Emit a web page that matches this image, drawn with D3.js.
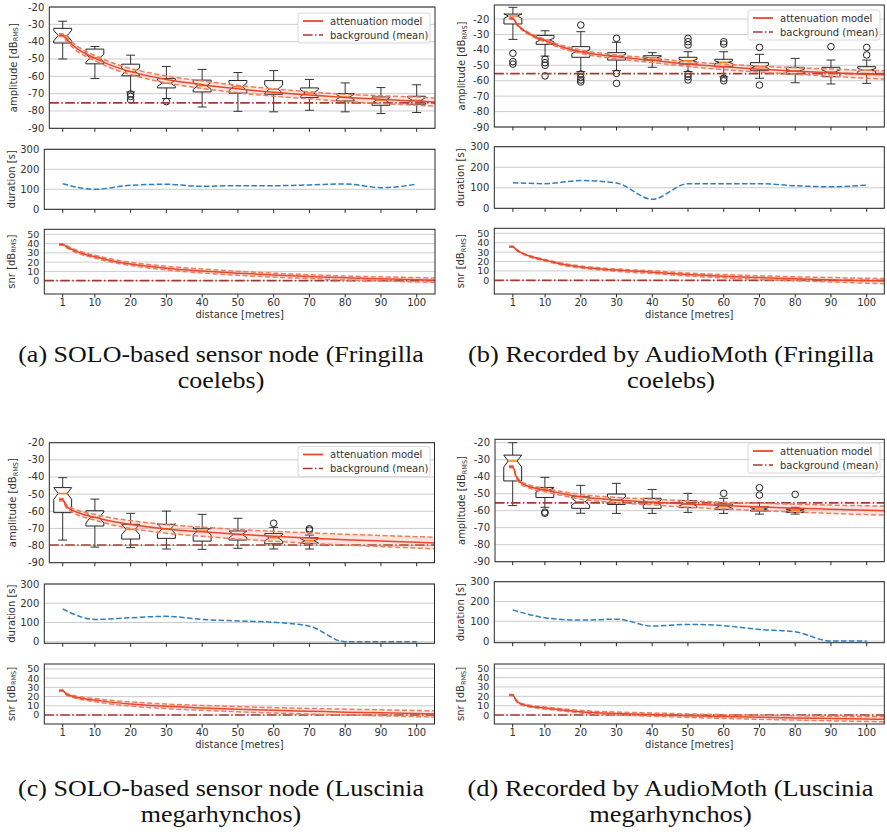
<!DOCTYPE html>
<html>
<head>
<meta charset="utf-8">
<script src="https://cdn.jsdelivr.net/npm/d3@7"></script>
<style>
  body { margin: 0; background: #fff; }
  svg { display: block; }
</style>
</head>
<body>
<div id="wrapper"></div>
<script>
// ---- data ----
const distances = [1, 10, 20, 30, 40, 50, 60, 70, 80, 90, 100]
const distanceTicks = [1, 10, 20, 30, 40, 50, 60, 70, 80, 90, 100]
const amplitudeTicks = [-90, -80, -70, -60, -50, -40, -30, -20]
const durationTicks = [0, 100, 200, 300]
const snrTicks = [0, 10, 20, 30, 40, 50]
const modelDistances = [0, 1, 2, 3, 5, 7, 10, 15, 20, 30, 40, 50, 60, 70, 80, 90, 100, 105]

// (a) SOLO, Fringilla coelebs
const lowA = [-50, -61.3, -69, -72.8, -77.7, -80.2, -80.5, -79.6, -80.5, -81.5, -80.9]
const q1A = [-40.8, -52.8, -59.7, -66.7, -69, -69.7, -70.4, -72.2, -74.2, -76.7, -76.1]
const medianA = [-36.5, -49.5, -57.2, -64, -65.5, -66, -67.4, -69.6, -71.9, -73.8, -73.8]
const q3A = [-32.3, -44.3, -53, -61.3, -62.2, -62.4, -62.5, -66.7, -69.9, -71.9, -71.5]
const highA = [-28.2, -42.8, -47.8, -54.3, -56, -57.8, -56.7, -61.8, -63.8, -66.5, -64.9]
const notchA = [3, 2.2, 2, 1.8, 2, 2.2, 2.3, 2, 1.5, 1.5, 1.6]
const outliersA = [[], [], [-70.2, -71.6, -73.6], [-74.6], [], [], [], [], [], [], []]
const backgroundA = -75.3
const modelA = [-36.3, -36.3, -38.5, -40.5, -44, -46.5, -49.5, -54, -57.3, -61.8, -64.8, -67.2, -69.2, -70.8, -72.2, -73.3, -74.3, -74.8]
const modelUpperA = [-35.5, -35.5, -37.3, -39.2, -42.5, -45, -48, -52.3, -55.5, -59.8, -62.7, -65.2, -67.2, -68.9, -70.3, -71.2, -72, -72.5]
const modelLowerA = [-37, -37, -39.7, -41.8, -45.5, -48, -51, -55.7, -59, -63.8, -67, -69.5, -71.5, -73, -74.5, -75.7, -76.7, -77.2]
const durationA = [128, 100, 120, 125, 115, 118, 118, 122, 127, 108, 125]

// (b) AudioMoth, Fringilla coelebs
const lowB = [-33.2, -44, -54.1, -53.5, -51.3, -54, -57.4, -58.4, -61.3, -62.1, -61.7]
const q1B = [-23.2, -36.4, -44.8, -46.6, -46.6, -49.2, -50.9, -53.5, -55.6, -57.4, -55.6]
const medianB = [-18.1, -33.6, -41.2, -44, -45.1, -47, -48, -50.9, -53.5, -54.1, -53]
const q3B = [-16.8, -30.6, -37.9, -41.8, -43.8, -44.8, -46.1, -48.3, -51.3, -51.3, -50.9]
const highB = [-12.4, -27.6, -28.2, -35.1, -41.8, -41.2, -41.2, -42.9, -45.5, -46.6, -46.6]
const notchB = [1.5, 1.2, 1.2, 1, 0.8, 0.8, 0.9, 1, 0.8, 1, 1]
const outliersB = [
  [-42.2, -47.6, -49.2],
  [-46.1, -48.3, -50, -56.9],
  [-23.9, -55.6, -57.8, -59.5, -60.8],
  [-32.5, -55.2, -61.7],
  [],
  [-32.5, -34.7, -36.8, -55.6, -57.4, -59.5],
  [-34.7, -36.2, -58.4, -60],
  [-38.4, -62.8],
  [],
  [-37.9],
  [-38.4, -43.3]
]
const backgroundB = -55.4
const modelB = [-19.6, -19.6, -23, -25.5, -28.8, -31.2, -34, -38.3, -41.2, -44.5, -46.7, -49.2, -51, -52.5, -53.8, -54.9, -55.8, -56.2]
const modelUpperB = [-19, -19, -22.5, -25, -28.2, -30.5, -33.2, -37.3, -40.1, -43.3, -45.3, -47.7, -49.2, -50.5, -51.6, -52.4, -53.2, -53.5]
const modelLowerB = [-20.2, -20.2, -23.6, -26.1, -29.5, -32, -34.9, -39.3, -42.3, -45.8, -48.2, -50.8, -52.8, -54.4, -55.8, -57.1, -58.4, -58.9]
const durationB = [125, 120, 135, 123, 44, 120, 120, 120, 110, 105, 113]

// (c) SOLO, Luscinia megarhynchos
const lowC = [-76.8, -80.9, -81.2, -82, -82.2, -81.6, -82, -82]
const q1C = [-60.8, -68.6, -76.2, -75.8, -77.4, -76.8, -79, -78.7]
const medianC = [-49.6, -63.6, -70.6, -70.2, -71.5, -73.5, -75.5, -77.2]
const q3C = [-46.2, -59.7, -67.6, -67.6, -70.2, -71.5, -73, -75.4]
const highC = [-40.4, -52.9, -61.2, -59.9, -61.8, -64.1, -69.4, -73.9]
const notchC = [3.4, 3.2, 3, 3, 2.2, 2, 1.8, 1.2]
const outliersC = [[], [], [], [], [], [], [-67], [-70.2, -71]]
const backgroundC = -79.7
const modelC = [-53.2, -53.2, -57, -58.6, -60.6, -62, -63.5, -66, -67.7, -70.3, -72, -73.4, -74.6, -75.6, -76.6, -77.4, -78.1, -78.5]
const modelUpperC = [-52.5, -52.5, -56, -57.5, -59.3, -60.6, -61.8, -64, -65.5, -67.8, -69.3, -70.6, -71.7, -72.6, -73.4, -74.1, -74.8, -75.2]
const modelLowerC = [-54, -54, -58, -59.7, -62, -63.5, -65.2, -68, -70, -72.8, -74.6, -76.2, -77.5, -78.7, -79.7, -80.6, -81.5, -81.9]
const durationC = [170, 116, 125, 132, 116, 108, 101, 81, 0, 0, 0]

// (d) AudioMoth, Luscinia megarhynchos
const lowD = [-57, -58, -61.5, -61.6, -61.6, -61, -61.6, -62, -62]
const q1D = [-42.5, -52.2, -58.6, -56.3, -58.6, -58.2, -59.2, -60.2, -61]
const medianD = [-30.8, -47.8, -54.7, -53.7, -55.3, -56.1, -57.6, -59, -59.8]
const q3D = [-27.3, -46.3, -51.8, -50.2, -52.7, -54.1, -56.1, -57.6, -59]
const highD = [-20, -40.4, -45.1, -43.9, -47.5, -49.8, -52.7, -55.3, -58]
const notchD = [3.5, 1.2, 2, 1.8, 1.5, 1.2, 1, 0.8, 0.6]
const outliersD = [[], [-60.8, -61.5], [], [], [], [], [-49.8], [-46.5, -50.8], [-50.4]]
const backgroundD = -55.4
const modelD = [-34.1, -34.1, -40, -43, -45.3, -46.7, -47.8, -50, -51.8, -53.7, -54.9, -56.1, -57, -57.8, -58.5, -59.1, -59.7, -60]
const modelUpperD = [-33.5, -33.5, -39.3, -42.2, -44.4, -45.7, -46.8, -48.8, -50.5, -52.2, -53.2, -54.2, -55, -55.6, -56.2, -56.7, -57.1, -57.3]
const modelLowerD = [-34.8, -34.8, -40.8, -43.9, -46.2, -47.7, -48.9, -51.2, -53.2, -55.3, -56.6, -58, -59, -60, -60.8, -61.6, -62.3, -62.6]
const durationD = [158, 118, 106, 111, 76, 84, 78, 59, 47, 0, 0]

const captionA = ["(a) SOLO-based sensor node (Fringilla", "coelebs)"]
const captionB = ["(b) Recorded by AudioMoth (Fringilla", "coelebs)"]
const captionC = ["(c) SOLO-based sensor node (Luscinia", "megarhynchos)"]
const captionD = ["(d) Recorded by AudioMoth (Luscinia", "megarhynchos)"]

// ---- styles ----
const textColor = "#333"
const gridColor = "#cccccc"
const spineColor = "#262626"
const modelColor = "#e8472e"
const bandColor = "#f27c5e"
const bgColor = "#a13c33"
const durationColor = "#2f7ec0"
const medianColor = "#ff7f0e"

const svg = d3.select("#wrapper")
  .append("svg")
  .attr("width", 887)
  .attr("height", 835)
  .style("font-family", "'DejaVu Sans', sans-serif")

let clipCount = 0

function axesFrame(g, box, x, y, ticks, opts) {
  const id = "clip" + (clipCount++)
  g.append("clipPath").attr("id", id)
    .append("rect")
    .attr("x", box.left).attr("y", box.top)
    .attr("width", box.right - box.left).attr("height", box.bottom - box.top)

  g.selectAll(null).data(ticks).join("line")
    .attr("x1", box.left).attr("x2", box.right)
    .attr("y1", d => y(d)).attr("y2", d => y(d))
    .attr("stroke", gridColor).attr("stroke-width", 1)

  g.selectAll(null).data(ticks).join("text")
    .attr("x", box.left - 5)
    .attr("y", d => y(d) + 3.5)
    .attr("text-anchor", "end")
    .attr("font-size", opts.tickSize || 10)
    .attr("fill", textColor)
    .text(d => d)

  g.selectAll(null).data(distanceTicks).join("line")
    .attr("x1", d => x(d)).attr("x2", d => x(d))
    .attr("y1", box.bottom).attr("y2", box.bottom + 3.5)
    .attr("stroke", spineColor).attr("stroke-width", 1)

  if (opts.xLabels) {
    g.selectAll(null).data(distanceTicks).join("text")
      .attr("x", d => x(d))
      .attr("y", box.bottom + 11.5)
      .attr("text-anchor", "middle")
      .attr("font-size", 10)
      .attr("fill", textColor)
      .text(d => d)
    g.append("text")
      .attr("x", (box.left + box.right) / 2)
      .attr("y", box.bottom + 24)
      .attr("text-anchor", "middle")
      .attr("font-size", 10)
      .attr("fill", textColor)
      .text("distance [metres]")
  }

  const label = g.append("text")
    .attr("transform", `translate(${opts.labelX + 3.5},${(box.top + box.bottom) / 2}) rotate(-90)`)
    .attr("text-anchor", "middle")
    .attr("font-size", 10)
    .attr("fill", textColor)
  label.append("tspan").text(opts.label)
  if (opts.rms) {
    label.append("tspan").attr("font-size", 6.5).attr("dy", 1.5).text("RMS")
    label.append("tspan").attr("dy", -1.5).text("]")
  }

  const inner = g.append("g").attr("clip-path", `url(#${id})`)
  g.append("rect")
    .attr("x", box.left).attr("y", box.top)
    .attr("width", box.right - box.left).attr("height", box.bottom - box.top)
    .attr("fill", "none").attr("stroke", spineColor).attr("stroke-width", 1)
  return inner
}

function drawModel(g, x, y, center, upper, lower, shift) {
  const pts = (arr) => modelDistances.map((d, i) => [d, arr[i] - shift])
  const area = d3.area()
    .x((d, i) => x(modelDistances[i]))
    .y0((d, i) => y(lower[i] - shift))
    .y1((d, i) => y(upper[i] - shift))
    .curve(d3.curveMonotoneX)
  g.append("path").datum(center).attr("d", area)
    .attr("fill", bandColor).attr("fill-opacity", 0.2)
  const line = d3.line().x(d => x(d[0])).y(d => y(d[1])).curve(d3.curveMonotoneX)
  ;[upper, lower].forEach(arr => {
    g.append("path").datum(pts(arr)).attr("d", line)
      .attr("fill", "none").attr("stroke", bandColor)
      .attr("stroke-width", 1.5).attr("stroke-dasharray", "5,2.5")
  })
  g.append("path").datum(pts(center)).attr("d", line)
    .attr("fill", "none").attr("stroke", modelColor).attr("stroke-width", 1.5)
}

function drawBackground(g, box, y, value) {
  g.append("line")
    .attr("x1", box.left).attr("x2", box.right)
    .attr("y1", y(value)).attr("y2", y(value))
    .attr("stroke", bgColor).attr("stroke-width", 1.6)
    .attr("stroke-dasharray", "9.6,2.4,1.5,2.4")
}

function drawBoxes(g, x, y, b) {
  const w = 5
  b.median.forEach((m, i) => {
    const d = distances[i]
    const xl = x(d - w / 2), xr = x(d + w / 2), xc = x(d)
    const xil = x(d - w / 4), xir = x(d + w / 4)
    const nLo = y(m - b.notch[i]), nHi = y(m + b.notch[i])
    const yq1 = y(b.q1[i]), yq3 = y(b.q3[i]), ym = y(m)

    g.append("line").attr("x1", xc).attr("x2", xc).attr("y1", yq1).attr("y2", y(b.low[i]))
      .attr("stroke", "#333").attr("stroke-width", 1)
    g.append("line").attr("x1", xc).attr("x2", xc).attr("y1", yq3).attr("y2", y(b.high[i]))
      .attr("stroke", "#333").attr("stroke-width", 1)
    ;[b.low[i], b.high[i]].forEach(v => {
      g.append("line").attr("x1", xil).attr("x2", xir).attr("y1", y(v)).attr("y2", y(v))
        .attr("stroke", "#333").attr("stroke-width", 1)
    })

    const p = d3.path()
    p.moveTo(xl, yq1); p.lineTo(xr, yq1); p.lineTo(xr, nLo); p.lineTo(xir, ym)
    p.lineTo(xr, nHi); p.lineTo(xr, yq3); p.lineTo(xl, yq3); p.lineTo(xl, nHi)
    p.lineTo(xil, ym); p.lineTo(xl, nLo); p.closePath()
    g.append("path").attr("d", p.toString())
      .attr("fill", "none").attr("stroke", "#222").attr("stroke-width", 1)

    g.append("line").attr("x1", xil).attr("x2", xir).attr("y1", ym).attr("y2", ym)
      .attr("stroke", medianColor).attr("stroke-width", 1.5)

    g.selectAll(null).data(b.outliers[i]).join("circle")
      .attr("cx", xc).attr("cy", v => y(v)).attr("r", 3.3)
      .attr("fill", "none").attr("stroke", "#222").attr("stroke-width", 1)
  })
}

function drawLegend(g, left, top) {
  g.append("rect").attr("x", left).attr("y", top).attr("width", 132).attr("height", 30)
    .attr("rx", 2.5).attr("fill", "#fff").attr("fill-opacity", 0.85)
    .attr("stroke", "#d8d8d8").attr("stroke-width", 1)
  g.append("line").attr("x1", left + 5).attr("x2", left + 25)
    .attr("y1", top + 8).attr("y2", top + 8)
    .attr("stroke", modelColor).attr("stroke-width", 1.8)
  g.append("line").attr("x1", left + 5).attr("x2", left + 25)
    .attr("y1", top + 22).attr("y2", top + 22)
    .attr("stroke", bgColor).attr("stroke-width", 1.6)
    .attr("stroke-dasharray", "9.6,2.4,1.5,2.4")
  g.append("text").attr("x", left + 32).attr("y", top + 11.5)
    .attr("font-size", 10).attr("fill", textColor).text("attenuation model")
  g.append("text").attr("x", left + 32).attr("y", top + 25.5)
    .attr("font-size", 10).attr("fill", textColor).text("background (mean)")
}

function drawCaption(lines, cx, baseline) {
  const serif = "'Liberation Serif', 'DejaVu Serif', serif"
  const t1 = svg.append("text").attr("font-family", serif).attr("font-size", 22.5)
    .attr("text-anchor", "middle").attr("fill", "#111").text(lines[0])
  const k = 406 / t1.node().getComputedTextLength()
  t1.attr("transform", `translate(${cx},${baseline}) scale(${k},1)`)
  svg.append("text").attr("font-family", serif).attr("font-size", 22.5)
    .attr("text-anchor", "middle").attr("fill", "#111").text(lines[1])
    .attr("transform", `translate(${cx},${baseline + 26}) scale(${k},1)`)
}

function drawPanel(p) {
  const g = svg.append("g")
  const x = d3.scaleLinear().domain([1, 100]).range(p.tickRange)

  // amplitude
  const yA = d3.scaleLinear().domain([-90, p.ampTop]).range([p.amp.bottom, p.amp.top])
  const gA = axesFrame(g, p.amp, x, yA, amplitudeTicks,
    { labelX: p.ampLabelX, label: "amplitude [dB", rms: true })
  drawBoxes(gA, x, yA, p.boxes)
  drawBackground(gA, p.amp, yA, p.background)
  drawModel(gA, x, yA, p.model, p.upper, p.lower, 0)
  drawLegend(g, p.legend[0], p.legend[1])

  // duration
  const yD = d3.scaleLinear().domain(p.durDomain).range([p.dur.bottom, p.dur.top])
  const gD = axesFrame(g, p.dur, x, yD, durationTicks,
    { labelX: p.labelX, label: "duration [s]" })
  const dLine = d3.line().x((d, i) => x(distances[i])).y(d => yD(d)).curve(d3.curveMonotoneX)
  gD.append("path").datum(p.duration).attr("d", dLine)
    .attr("fill", "none").attr("stroke", durationColor)
    .attr("stroke-width", 1.5).attr("stroke-dasharray", "5.5,2.4")

  // snr
  const yS = d3.scaleLinear().domain(p.snrDomain).range([p.snr.bottom, p.snr.top])
  const gS = axesFrame(g, p.snr, x, yS, snrTicks,
    { labelX: p.labelX, label: "snr [dB", rms: true, xLabels: true, tickSize: 9.5 })
  drawBackground(gS, p.snr, yS, 0)
  drawModel(gS, x, yS, p.model, p.upper, p.lower, p.background)

  drawCaption(p.caption, p.captionX, p.captionY)
}

drawPanel({
  tickRange: [62.7, 416.7], ampTop: -20,
  amp: { left: 49.3, right: 435, top: 7, bottom: 128.3 },
  dur: { left: 44.3, right: 435, top: 149.3, bottom: 209.3 },
  snr: { left: 44.3, right: 435, top: 229.3, bottom: 294 },
  durDomain: [0, 300], snrDomain: [-14.4, 55.4],
  ampLabelX: 13.3, labelX: 11, legend: [298, 13],
  boxes: { low: lowA, q1: q1A, median: medianA, q3: q3A, high: highA, notch: notchA, outliers: outliersA },
  background: backgroundA, model: modelA, upper: modelUpperA, lower: modelLowerA,
  duration: durationA, caption: captionA, captionX: 221, captionY: 362
})

drawPanel({
  tickRange: [512.9, 866.7], ampTop: -10.9,
  amp: { left: 494.3, right: 884.3, top: 5, bottom: 127 },
  dur: { left: 494.3, right: 884.3, top: 146.7, bottom: 208.3 },
  snr: { left: 494.3, right: 884.3, top: 228.3, bottom: 294 },
  durDomain: [0, 300], snrDomain: [-14.5, 55.3],
  ampLabelX: 461.7, labelX: 460.7, legend: [748, 10],
  boxes: { low: lowB, q1: q1B, median: medianB, q3: q3B, high: highB, notch: notchB, outliers: outliersB },
  background: backgroundB, model: modelB, upper: modelUpperB, lower: modelLowerB,
  duration: durationB, caption: captionB, captionX: 671, captionY: 362
})

drawPanel({
  tickRange: [62.7, 416.7], ampTop: -20,
  amp: { left: 49.3, right: 434.5, top: 442.7, bottom: 562.7 },
  dur: { left: 44.3, right: 434.5, top: 584, bottom: 643.3 },
  snr: { left: 44.3, right: 434.5, top: 664, bottom: 724 },
  durDomain: [-8, 300], snrDomain: [-9.8, 55.4],
  ampLabelX: 12.7, labelX: 11.3, legend: [298, 446.5],
  boxes: { low: lowC, q1: q1C, median: medianC, q3: q3C, high: highC, notch: notchC, outliers: outliersC },
  background: backgroundC, model: modelC, upper: modelUpperC, lower: modelLowerC,
  duration: durationC, caption: captionC, captionX: 221, captionY: 796
})

drawPanel({
  tickRange: [512.7, 866.7], ampTop: -18,
  amp: { left: 495, right: 884.3, top: 439.3, bottom: 561.7 },
  dur: { left: 494.3, right: 884.3, top: 581.7, bottom: 642.7 },
  snr: { left: 494.3, right: 884.3, top: 664, bottom: 724 },
  durDomain: [-8, 300], snrDomain: [-9.6, 54.6],
  ampLabelX: 461.7, labelX: 460.7, legend: [748, 443],
  boxes: { low: lowD, q1: q1D, median: medianD, q3: q3D, high: highD, notch: notchD, outliers: outliersD },
  background: backgroundD, model: modelD, upper: modelUpperD, lower: modelLowerD,
  duration: durationD, caption: captionD, captionX: 670.5, captionY: 796
})
</script>
</body>
</html>
